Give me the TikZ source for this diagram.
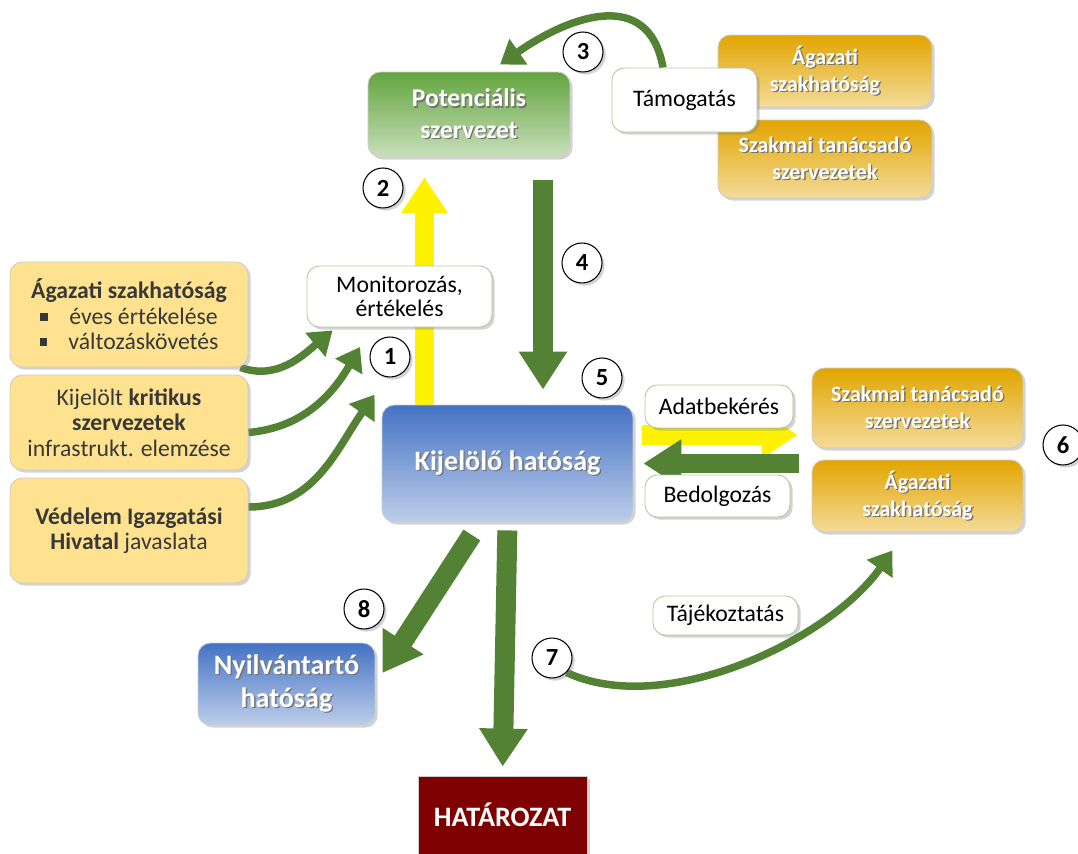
\documentclass[tikz,border=0pt]{standalone}
\usepackage{fontspec}
\setmainfont{Carlito}
\usetikzlibrary{arrows.meta,shadows,positioning}
\pgfdeclarelayer{back}
\pgfsetlayers{back,main}

\definecolor{potgreen}{HTML}{62A43E}
\definecolor{arrowgreen}{HTML}{548235}
\definecolor{kijblue}{HTML}{4472C4}
\definecolor{goldbox}{HTML}{E2A500}
\definecolor{paleyellow}{HTML}{FFE28F}
\definecolor{hatred}{HTML}{7F0000}
\definecolor{lbledge}{HTML}{B4C8A0}

\newcommand\shd[1]{\makebox[0pt][l]{\kern0.8pt\raisebox{-0.8pt}{\textcolor{black!55}{#1}}}#1}
\newcommand\sqbul{\raisebox{2pt}{\rule{4.5pt}{4.5pt}}\hspace{12pt}}

\tikzset{
  box/.style={rounded corners=7pt, draw=black!20, line width=0.5pt, align=center, inner sep=2pt,
    drop shadow={opacity=0.35, shadow xshift=1.5pt, shadow yshift=-1.5pt}},
  headbox/.style={box, text=white, font=\bfseries\fontsize{16}{19}\selectfont},
  potbox/.style={headbox, font=\bfseries\fontsize{14.5}{18}\selectfont,
    top color=potgreen, middle color=potgreen, bottom color=potgreen!35!white},
  kijbox/.style={headbox, top color=kijblue, middle color=kijblue, bottom color=kijblue!35!white},
  goldbox/.style={headbox, font=\bfseries\fontsize{12.5}{15.5}\selectfont, top color=goldbox, middle color=goldbox, bottom color=goldbox!40!white,
    minimum width=4.28cm},
  inputbox/.style={box, fill=paleyellow, text=black!78, font=\fontsize{13.5}{14.5}\selectfont, minimum width=4.76cm},
  lbl/.style={box, fill=white, draw=lbledge, text=black, font=\fontsize{13.5}{14}\selectfont},
  stepno/.style={circle, draw=black, line width=0.6pt, fill=white, minimum size=0.8cm, inner sep=0pt,
    font=\bfseries\fontsize{14}{14}\selectfont, drop shadow={opacity=0.35, shadow xshift=1.5pt, shadow yshift=-1.5pt}},
  fatyellow/.style={yellow, line width=0.4cm, -{Triangle[length=0.72cm, width=0.9cm]}},
  fatgreen/.style={arrowgreen, line width=0.4cm, -{Triangle[length=0.76cm, width=0.92cm]}},
  bendgreen/.style={arrowgreen, line width=0.15cm, -{Triangle[length=0.45cm, width=0.6cm]}},
}

\begin{document}
\begin{tikzpicture}[x=0.02cm, y=-0.02cm]
  \clip (0,0) rectangle (1078,854);

  % Boxes
  \node[potbox, minimum width=4.04cm, minimum height=1.7cm] (pot) at (469,114.5)
    {\shd{Potenciális}\\\shd{szervezet}};
  \node[goldbox, minimum height=1.44cm] (agT) at (825,71) {\shd{Ágazati}\\\shd{szakhatóság}};
  \node[goldbox, minimum height=1.56cm] (szT) at (825,159) {\shd{Szakmai tanácsadó}\\\shd{szervezetek}};
  \node[lbl, minimum width=2.9cm, minimum height=1.28cm] (tam) at (684.5,100) {Támogatás};

  \node[lbl, minimum width=3.7cm, minimum height=1.22cm] (mon) at (399.5,296.5) {Monitorozás,\\értékelés};
  \node[kijbox, minimum width=5.02cm, minimum height=2.34cm] (kij) at (507.5,463.5) {\shd{Kijelölő hatóság}};

  \node[inputbox, minimum height=2.1cm] (inA) at (129,314.5)
    {\textbf{Ágazati szakhatóság}\\\sqbul éves értékelése\\\sqbul változáskövetés};
  \node[inputbox, minimum height=1.9cm] (inB) at (129,422.5)
    {Kijelölt \textbf{kritikus}\\\textbf{szervezetek}\\infrastrukt. elemzése};
  \node[inputbox, minimum height=2.1cm] (inC) at (129,530.5)
    {\textbf{Védelem Igazgatási}\\\textbf{Hivatal} javaslata};

  \node[lbl, minimum width=2.96cm, minimum height=0.86cm] (adat) at (719,406.5) {Adatbekérés};
  \node[lbl, minimum width=2.9cm, minimum height=0.84cm] (bedo) at (717.5,496) {Bedolgozás};
  \node[goldbox, minimum width=4.22cm, minimum height=1.6cm] (szR) at (917.5,408) {\shd{Szakmai tanácsadó}\\\shd{szervezetek}};
  \node[goldbox, minimum width=4.22cm, minimum height=1.44cm] (agR) at (917.5,496) {\shd{Ágazati}\\\shd{szakhatóság}};

  \node[lbl, minimum width=2.9cm, minimum height=0.78cm] (taj) at (725.5,615.5) {Tájékoztatás};
  \node[kijbox, minimum width=3.54cm, minimum height=1.64cm] (nyil) at (286.5,684) {\shd{Nyilvántartó}\\\shd{hatóság}};
  \node[headbox, rounded corners=0pt, fill=hatred, minimum width=3.38cm, minimum height=1.56cm] (hat) at (502.5,815) {HATÁROZAT};

  % Step numbers
  \node[stepno] (s1) at (390,357) {1};
  \node[stepno] (s2) at (383,188) {2};
  \node[stepno] (s3) at (583,52) {3};
  \node[stepno] (s4) at (582,263) {4};
  \node[stepno] (s5) at (602,378) {5};
  \node[stepno] (s6) at (1063,445) {6};
  \node[stepno] (s7) at (552,658) {7};
  \node[stepno] (s8) at (364,609) {8};

  % Arrows
  \begin{pgfonlayer}{back}
    \draw[yellow, line width=0.4cm] ([xshift=0.5cm]mon.south) -- ([xshift=0.5cm]mon.south |- kij.north);
    \draw[fatyellow, shorten >=0.4cm] ([xshift=0.5cm]mon.north) -- ([xshift=0.5cm]mon.north |- pot.south);
    \draw[fatgreen, shorten <=0.46cm, shorten >=0.3cm] ([xshift=1.48cm]pot.south) -- ([xshift=1.48cm]pot.south |- kij.north);
    \draw[fatyellow, shorten <=0.18cm, shorten >=0.28cm] ([yshift=0.57cm]kij.east) -- ([yshift=0.57cm]kij.east -| szR.west);
    \draw[fatgreen, shorten <=0.25cm, shorten >=0.2cm] (kij.east -| agR.west) -- (kij.east);
    \draw[fatgreen, shorten <=0.3cm] ([xshift=-0.55cm]kij.south) -- ([xshift=0.14cm, yshift=0.22cm]nyil.east);
    \draw[fatgreen, shorten <=0.16cm, shorten >=0.18cm] (kij.south) -- (hat.north);

    \draw[bendgreen] ([xshift=-0.43cm]tam.north) to[out=100, in=35, looseness=1.3] ([xshift=0.62cm, yshift=0.14cm]pot.north);
    \draw[bendgreen] ([xshift=-0.16cm]inA.south east) to[out=-20, in=220] ([xshift=0.52cm, yshift=-0.06cm]mon.south west);
    \draw[bendgreen] ([yshift=-0.2cm]inB.east) to[out=5, in=240] ([xshift=-0.6cm, yshift=0.2cm]s1.center);
    \draw[bendgreen] ([yshift=0.47cm]inC.east) to[out=0, in=235] ([xshift=-0.14cm, yshift=0.2cm]kij.north west);
    \draw[bendgreen] (s7.south east) to[out=-25, in=235, looseness=0.8] ([xshift=-0.5cm, yshift=-0.36cm]agR.south);
  \end{pgfonlayer}
\end{tikzpicture}
\end{document}
